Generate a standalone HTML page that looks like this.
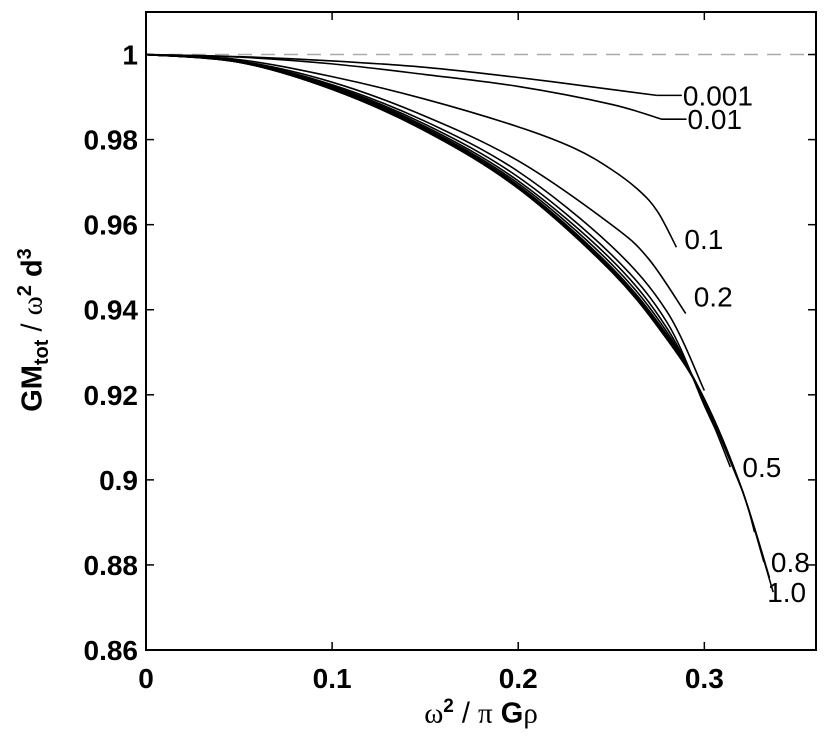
<!DOCTYPE html>
<html><head><meta charset="utf-8"><style>
html,body{margin:0;padding:0;background:#fff;}
svg{display:block;font-family:"Liberation Sans",sans-serif;}
</style></head><body>
<svg id="chart" width="830" height="743" viewBox="0 0 830 743"></svg>
<script>
const xTicks=[0,0.1,0.2,0.3];
const xTickLabels=["0","0.1","0.2","0.3"];
const yTicks=[0.86,0.88,0.9,0.92,0.94,0.96,0.98,1];
const yTickLabels=["0.86","0.88","0.9","0.92","0.94","0.96","0.98","1"];
const seriesNames=["0.001","0.01","0.1","0.2","0.3","0.4","0.5","0.6","0.7","0.8","0.9","1.0"];
const x_0001=[0,0.05,0.1,0.15,0.2,0.25,0.2745];
const y_0001=[1,0.9995,0.9985,0.997,0.9946,0.9918,0.9904];
const x_001=[0,0.05,0.1,0.15,0.2,0.25,0.277];
const y_001=[1,0.9994,0.9978,0.9953,0.9925,0.9883,0.9848];
const x_01=[0,0.05,0.1,0.15,0.2,0.23,0.25,0.265,0.275,0.285];
const y_01=[1,0.9988,0.9948,0.9895,0.983,0.978,0.973,0.968,0.963,0.9547];
const x_02=[0,0.05,0.1,0.15,0.2,0.25,0.27,0.29];
const y_02=[1,0.9985,0.9935,0.9855,0.975,0.96,0.952,0.9391];
const x_03=[0,0.05,0.1,0.15,0.2,0.25,0.28,0.3];
const y_03=[1,0.9984,0.9929,0.9843,0.9725,0.955,0.9395,0.921];
const x_04=[0,0.05,0.1,0.15,0.2,0.25,0.28,0.3,0.307];
const y_04=[1,0.9983,0.9926,0.9836,0.9712,0.953,0.937,0.9175,0.911];
const x_05=[0,0.05,0.1,0.15,0.2,0.25,0.28,0.3,0.314];
const y_05=[1,0.9983,0.9924,0.9831,0.9703,0.9518,0.9356,0.918,0.903];
const x_06=[0,0.05,0.1,0.15,0.2,0.25,0.28,0.3,0.321];
const y_06=[1,0.9982,0.9922,0.9827,0.9697,0.9508,0.9347,0.9185,0.8969];
const x_07=[0,0.05,0.1,0.15,0.2,0.25,0.28,0.3,0.32,0.327];
const y_07=[1,0.9982,0.992,0.9824,0.9692,0.95,0.934,0.919,0.898,0.8877];
const x_08=[0,0.05,0.1,0.15,0.2,0.25,0.28,0.3,0.32,0.332];
const y_08=[1,0.9982,0.9919,0.9822,0.9689,0.9495,0.9335,0.919,0.898,0.8807];
const x_09=[0,0.05,0.1,0.15,0.2,0.25,0.28,0.3,0.32,0.335];
const y_09=[1,0.9982,0.9918,0.9821,0.9687,0.9492,0.9332,0.919,0.898,0.877];
const x_10=[0,0.05,0.1,0.15,0.2,0.25,0.28,0.3,0.32,0.337];
const y_10=[1,0.9982,0.9918,0.982,0.9685,0.949,0.933,0.919,0.898,0.8736];
const seriesX=[x_0001,x_001,x_01,x_02,x_03,x_04,x_05,x_06,x_07,x_08,x_09,x_10];
const seriesY=[y_0001,y_001,y_01,y_02,y_03,y_04,y_05,y_06,y_07,y_08,y_09,y_10];
const labelShown=["0.001","0.01","0.1","0.2","0.5","0.8","1.0"];

const L=146,R=816,T=12,B=650,XMIN=0,XMAX=0.36,YMIN=0.86,YMAX=1.01;
const sx=v=>L+(v-XMIN)/(XMAX-XMIN)*(R-L);
const sy=v=>B-(v-YMIN)/(YMAX-YMIN)*(B-T);
const NS="http://www.w3.org/2000/svg";
const svg=document.getElementById('chart');
function mk(tag,attrs,parent){const e=document.createElementNS(NS,tag);for(const k in attrs)e.setAttribute(k,attrs[k]);(parent||svg).appendChild(e);return e;}

const ref=mk('line',{x1:L,x2:R,y1:sy(1),y2:sy(1),stroke:'#aaa','stroke-width':1.5,'stroke-dasharray':'14 9'});



function smoothPath(xs,ys){
  const p=xs.map((x,i)=>[sx(x),sy(ys[i])]);
  let d='M'+p[0][0]+','+p[0][1];
  for(let i=0;i<p.length-1;i++){
    const p0=p[Math.max(0,i-1)],p1=p[i],p2=p[i+1],p3=p[Math.min(p.length-1,i+2)];
    const c1=[p1[0]+(p2[0]-p0[0])/6,p1[1]+(p2[1]-p0[1])/6];
    const c2=[p2[0]-(p3[0]-p1[0])/6,p2[1]-(p3[1]-p1[1])/6];
    d+=' C'+c1[0]+','+c1[1]+' '+c2[0]+','+c2[1]+' '+p2[0]+','+p2[1];
  }
  return d;
}
seriesNames.forEach((n,i)=>{
  const path=mk('path',{d:smoothPath(seriesX[i],seriesY[i]),fill:'none',stroke:'#000','stroke-width':1.6});
  
  
  if(labelShown.indexOf(n)>=0){
    const xs=seriesX[i],ys=seriesY[i];
    const ex=sx(xs[xs.length-1]),ey=sy(ys[ys.length-1]);
    let tx=ex+8,ty=ey+10;
    if(n==="0.001"||n==="0.01"){
      const ln=mk('line',{x1:ex,x2:ex+25,y1:ey,y2:ey,stroke:'#000','stroke-width':1.6});
      
      
      tx=ex+26;ty=ey+10;
    }
    if(n==="0.1"){tx=ex+8;ty=ey+2;}
    if(n==="0.2"){tx=ex+8;ty=ey-7;}
    if(n==="0.5"){tx=ex+12;ty=ey+10;}
    if(n==="0.8"){tx=ex+7;ty=ey+10;}
    if(n==="1.0"){tx=ex-6;ty=ey+10;}
    const t=mk('text',{x:tx,y:ty,'font-size':28,fill:'#000'});
    t.textContent=n;
    
    
  }
});

const box=mk('rect',{x:L,y:T,width:R-L,height:B-T,fill:'none',stroke:'#000','stroke-width':2});



xTicks.forEach((v,i)=>{
  const x=sx(v);
  const g=mk('g',{});
  
  
  mk('line',{x1:x,x2:x,y1:B,y2:B-8,stroke:'#000','stroke-width':1.5},g);
  mk('line',{x1:x,x2:x,y1:T,y2:T+8,stroke:'#000','stroke-width':1.5},g);
  const t=mk('text',{x:x,y:B+38,'font-size':28,'font-weight':'bold','text-anchor':'middle'},g);
  t.textContent=xTickLabels[i];
});
yTicks.forEach((v,i)=>{
  const y=sy(v);
  const g=mk('g',{});
  
  
  mk('line',{x1:L,x2:L+8,y1:y,y2:y,stroke:'#000','stroke-width':1.5},g);
  mk('line',{x1:R,x2:R-8,y1:y,y2:y,stroke:'#000','stroke-width':1.5},g);
  const t=mk('text',{x:L-8,y:y+10,'font-size':28,'font-weight':'bold','text-anchor':'end'},g);
  t.textContent=yTickLabels[i];
});
</script>
<div style="position:absolute;left:0;top:696px;width:962px;text-align:center;font-size:29px;font-family:'Liberation Sans',sans-serif;"><span style="font-family:'Liberation Serif',serif">ω</span><sup style="font-size:19px;font-weight:bold">2</sup> / <span style="font-family:'Liberation Serif',serif">π</span> <b>G</b><span style="font-family:'Liberation Serif',serif">ρ</span></div>
<div style="position:absolute;left:34px;top:330px;transform:translate(-50%,-50%) rotate(-90deg);white-space:nowrap;font-size:29px;font-weight:bold;font-family:'Liberation Sans',sans-serif;">GM<sub style="font-size:20px">tot</sub> <span style="font-weight:normal">/</span> <span style="font-family:'Liberation Serif',serif;font-weight:normal">ω</span><sup style="font-size:20px">2</sup> d<sup style="font-size:20px">3</sup></div>
</body></html>
